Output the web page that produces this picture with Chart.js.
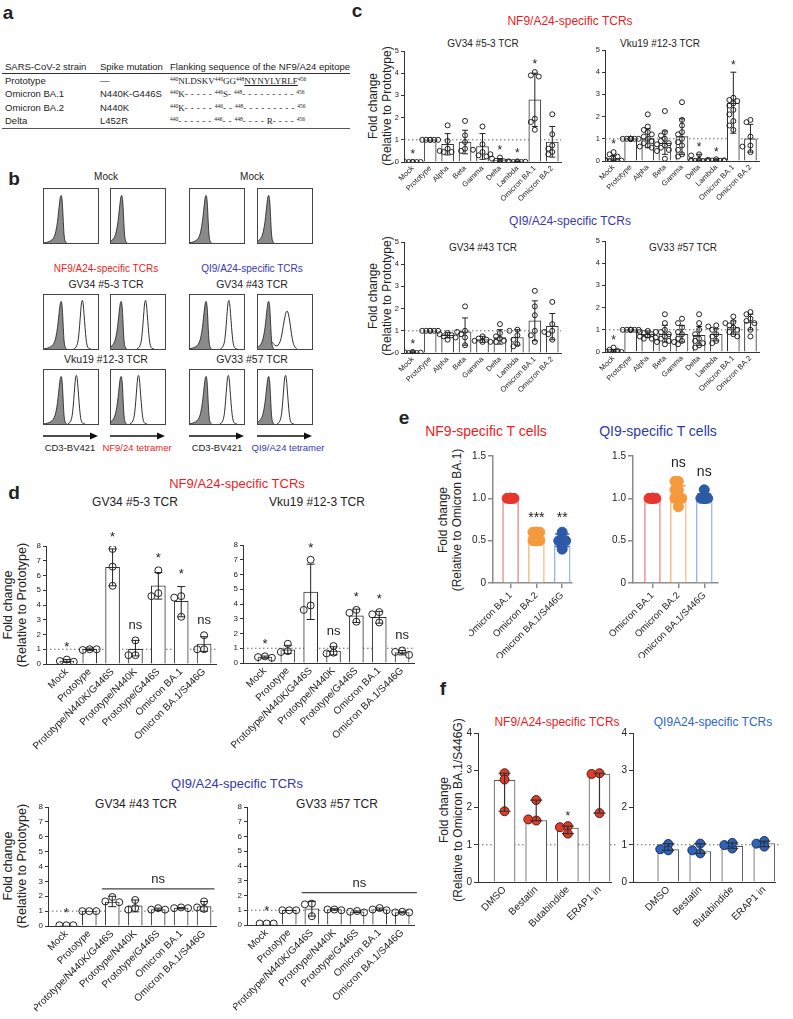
<!DOCTYPE html>
<html>
<head>
<meta charset="utf-8">
<script src="https://cdn.jsdelivr.net/npm/chart.js@4.4.1/dist/chart.umd.min.js"></script>
<style>
  body { margin: 0; background: #fff; font-family: 'Liberation Sans', Arial, sans-serif; color: #222; }
  #page { position: relative; width: 793px; height: 1019px; overflow: hidden; }
  .t { position: absolute; white-space: nowrap; transform: translate(-50%, -50%); line-height: 1; }
  .v { transform: translate(-50%, -50%) rotate(-90deg); }
  .box { position: absolute; border: 1px solid #444; box-sizing: border-box; }
  #tbl { position: absolute; left: 2px; top: 61px; border-collapse: collapse; font-size: 9.5px; }
  #tbl td { padding: 0; height: 11.5px; line-height: 11.5px; white-space: nowrap; }
  #tbl tr.hd td { border-bottom: 1px solid #333; height: 11px; }
  #tbl tr.last td { border-bottom: 1.5px solid #555; }
  .sq { font-family: 'Liberation Serif', serif; font-size: 9px; }
  .sq sup { font-size: 5.5px; vertical-align: 3px; }
  .ds { letter-spacing: 3px; }
</style>
</head>
<body>
<div id="page">
  <table id="tbl">
    <tr class="hd"><td style="width:95px;padding-left:3px">SARS-CoV-2 strain</td><td style="width:70px">Spike mutation</td><td style="width:169px">Flanking sequence of the NF9/A24 epitope</td></tr>
    <tr><td style="padding-left:3px">Prototype</td><td>&mdash;</td><td class="sq"><sup>440</sup>NLDSKV<sup>446</sup>GG<sup>448</sup><u>NYNYLYRLF</u><sup>456</sup></td></tr>
    <tr><td style="padding-left:3px">Omicron BA.1</td><td>N440K-G446S</td><td class="sq"><sup>440</sup>K<span class="ds">-----</span><sup>446</sup>S<span class="ds">-</span><sup>448</sup><span class="ds">---------</span><sup>456</sup></td></tr>
    <tr><td style="padding-left:3px">Omicron BA.2</td><td>N440K</td><td class="sq"><sup>440</sup>K<span class="ds">-----</span><sup>446</sup><span class="ds">--</span><sup>448</sup><span class="ds">---------</span><sup>456</sup></td></tr>
    <tr class="last"><td style="padding-left:3px">Delta</td><td>L452R</td><td class="sq"><sup>440</sup><span class="ds">------</span><sup>446</sup><span class="ds">--</span><sup>448</sup><span class="ds">----</span>R<span class="ds">----</span><sup>456</sup></td></tr>
  </table>
  <svg id="arrows" width="793" height="1019" style="position:absolute;left:0;top:0;pointer-events:none"></svg>
</div>
<script>
// ---- panel b: histogram shapes [offset, height] and peak centres (0-100 across each box)
const histGray = [[-34,0],[-28,1],[-22,3],[-17,6],[-13,12],[-10,22],[-7,40],[-5,58],[-3,76],[-1.5,86],[0,88],[1.5,80],[3,55],[4.5,25],[6,8],[8,2],[10,0]];
const histOpen = [[-16,0],[-12,3],[-9,10],[-7,22],[-5,44],[-3,70],[-1.5,86],[0,90],[1.5,84],[3,66],[5,40],[7,18],[9,6],[12,1],[16,0]];
const histOpenWide = [[-34,0],[-31,5],[-28,11],[-26,12],[-23,8],[-20,6],[-16,7],[-12,14],[-9,26],[-6,44],[-3,60],[-1,68],[1,70],[3,66],[6,50],[9,28],[12,12],[15,4],[19,0]];
const mockGray = [32, 20, 30, 20];
const row2Gray = [32, 19, 30, 20];
const row2Open = [71, 64, 72, 53];
const row3Gray = [32, 19, 30, 20];
const row3Open = [60, 51, 71, 51];

// ---- panel c
const cLabels = ['Mock', 'Prototype', 'Alpha', 'Beta', 'Gamma', 'Delta', 'Lambda', 'Omicron BA.1', 'Omicron BA.2'];

const c1Mean = [0, 1, 0.8, 0.9, 0.7, 0.08, 0.02, 2.8, 0.9];
const c1Lo = [0, 1, 0.32, 0.37, 0.12, 0, 0, 1.6, 0.22];
const c1Hi = [0, 1, 1.28, 1.43, 1.28, 0.16, 0.04, 4.0, 1.6];
const c1Pts = [
  [0, 0, 0, 0, 0, 0], [1, 1, 1, 1, 1, 1], [1.65, 0.95, 0.6, 0.45, 0.45, 0.5],
  [1.85, 1.2, 0.9, 0.6, 0.5, 0.55], [1.6, 0.8, 0.45, 0.3, 0.25, 0.35], [0.2, 0.15, 0.05, 0.03, 0.02, 0],
  [0.03, 0.02, 0.01, 0, 0, 0], [4.05, 3.9, 3.85, 1.95, 1.8, 1.45], [2.15, 1.25, 0.75, 0.6, 0.45, 0.35]
];
const c1Sig = ['*', '', '', '', '', '*', '*', '*', ''];

const c2Mean = [0.08, 1, 1.0, 0.8, 1.1, 0.05, 0.03, 2.6, 1.0];
const c2Lo = [0, 1, 0.6, 0.3, 0.3, 0, 0, 1.25, 0.4];
const c2Hi = [0.25, 1, 1.45, 1.35, 1.9, 0.3, 0.08, 4.0, 1.65];
const c2Pts = [
  [0.4, 0.3, 0.2, 0.1, 0.05, 0.02, 0, 0, 0, 0], [1, 1, 1, 1, 1, 1, 1, 1, 1, 1, 1, 1],
  [2.1, 1.55, 1.4, 1.3, 1.2, 1.1, 1.0, 0.9, 0.8, 0.7, 0.65, 0.6],
  [2.25, 1.3, 1.15, 1.0, 0.9, 0.8, 0.75, 0.7, 0.6, 0.5, 0.45, 0.1],
  [2.65, 1.85, 1.6, 1.3, 1.2, 1.0, 0.85, 0.7, 0.5, 0.3, 0.2],
  [0.3, 0.25, 0.05, 0.03, 0.02, 0.01, 0, 0, 0], [0.08, 0.05, 0.03, 0.02, 0.01, 0, 0, 0],
  [2.85, 2.75, 2.7, 2.6, 2.5, 2.3, 2.1, 1.8, 1.6, 1.4], [1.85, 1.75, 1.1, 0.7, 0.65, 0.4]
];
const c2Sig = ['*', '', '', '', '', '*', '*', '*', ''];

const c3Mean = [0.02, 1, 0.8, 0.95, 0.6, 0.7, 0.7, 1.45, 1.2];
const c3Lo = [0, 1, 0.68, 0.35, 0.48, 0.4, 0.35, 0.55, 0.6];
const c3Hi = [0.05, 1, 0.92, 1.58, 0.75, 1.05, 1.05, 2.35, 1.78];
const c3Pts = [
  [0.05, 0.03, 0.02, 0, 0, 0], [1, 1, 1, 1, 1, 1], [0.9, 0.85, 0.8, 0.75, 0.7, 0.6],
  [2.1, 1.0, 0.95, 0.85, 0.7, 0.35], [0.75, 0.65, 0.6, 0.55, 0.5, 0.5], [1.3, 0.9, 0.75, 0.65, 0.55, 0.5],
  [1.05, 1.0, 0.8, 0.6, 0.4, 0.3], [2.8, 2.1, 1.7, 1.0, 0.8, 0.5], [2.3, 1.3, 1.0, 0.95, 0.85, 0.6]
];
const c3Sig = ['*', '', '', '', '', '', '', '', ''];

const c4Mean = [0.05, 1, 0.8, 0.8, 0.8, 0.75, 0.8, 1.1, 1.35];
const c4Lo = [0, 1, 0.65, 0.45, 0.45, 0.3, 0.5, 0.8, 1.0];
const c4Hi = [0.12, 1, 0.95, 1.2, 1.2, 1.15, 1.05, 1.4, 1.7];
const c4Pts = [
  [0.2, 0.1, 0.05, 0.02, 0, 0, 0, 0], [1, 1, 1, 1, 1, 1, 1, 1],
  [0.95, 0.9, 0.9, 0.85, 0.8, 0.75, 0.7, 0.65, 0.6, 0.6],
  [1.7, 1.3, 1.0, 0.9, 0.8, 0.7, 0.6, 0.5, 0.45, 0.35],
  [1.5, 1.3, 1.1, 0.9, 0.8, 0.6, 0.5, 0.45, 0.35],
  [1.7, 1.3, 1.0, 0.8, 0.6, 0.5, 0.4, 0.3, 0.2],
  [1.2, 1.15, 1.0, 0.8, 0.7, 0.5, 0.4],
  [1.6, 1.35, 1.3, 1.2, 1.1, 1.0, 0.9, 0.8, 0.7],
  [1.8, 1.7, 1.5, 1.4, 1.3, 1.0, 0.7]
];
const c4Sig = ['*', '', '', '', '', '', '', '', ''];

// ---- panel d
const dLabels = ['Mock', 'Prototype', 'Prototype/N440K/G446S', 'Prototype/N440K', 'Prototype/G446S', 'Omicron BA.1', 'Omicron BA.1/S446G'];

const d1Mean = [0.2, 1.0, 6.55, 1.0, 5.3, 4.25, 1.35];
const d1Lo = [0.12, 0.92, 5.3, 0.55, 4.4, 3.2, 0.85];
const d1Hi = [0.3, 1.08, 7.8, 1.6, 6.2, 5.25, 1.85];
const d1Pts = [[0.3, 0.2, 0.15], [1.0, 0.95, 1.0], [7.8, 6.6, 5.3], [1.6, 0.6, 0.6], [6.35, 4.8, 4.6], [4.6, 4.5, 3.2], [1.95, 1.0, 1.0]];
const d1Sig = ['*', '', '*', 'ns', '*', '*', 'ns'];

const d2Mean = [0.4, 0.9, 4.8, 0.8, 3.2, 3.1, 0.7];
const d2Lo = [0.33, 0.65, 2.95, 0.55, 2.75, 2.7, 0.55];
const d2Hi = [0.47, 1.2, 6.7, 1.1, 3.65, 3.5, 0.85];
const d2Pts = [[0.45, 0.4, 0.35], [1.3, 0.8, 0.75], [7.0, 3.9, 3.6], [1.15, 0.7, 0.65], [3.6, 3.4, 2.8], [3.45, 3.3, 2.75], [0.85, 0.75, 0.55]];
const d2Sig = ['*', '', '*', 'ns', '*', '*', 'ns'];

const d3Mean = [0.05, 1.0, 1.6, 1.35, 1.1, 1.2, 1.3];
const d3Lo = [0.05, 1.0, 1.3, 0.95, 1.05, 1.15, 1.0];
const d3Hi = [0.05, 1.0, 2.0, 1.75, 1.2, 1.25, 1.65];
const d3Pts = [[0.05, 0.05, 0.05], [1, 1, 1], [1.95, 1.65, 1.6], [1.75, 1.2, 1.1], [1.2, 1.1, 1.1], [1.25, 1.2, 1.2], [1.65, 1.25, 1.15]];
const d3Sig = ['*', '', '', '', '', '', ''];
const d3Bracket = { from: 2, to: 6, y: 2.5, label: 'ns' };

const d4Mean = [0.05, 1.0, 1.1, 1.05, 0.9, 1.05, 0.85];
const d4Lo = [0.05, 1.0, 0.6, 1.0, 0.85, 1.0, 0.82];
const d4Hi = [0.05, 1.0, 1.6, 1.1, 0.95, 1.15, 0.9];
const d4Pts = [[0.1, 0.1, 0.1], [1, 1, 1], [1.45, 1.4, 0.6], [1.05, 1.05, 1.0], [0.95, 0.9, 0.85], [1.15, 1.05, 1.0], [0.9, 0.85, 0.85]];
const d4Sig = ['*', '', '', '', '', '', ''];
const d4Bracket = { from: 2, to: 6, y: 2.2, label: 'ns' };

// ---- panel e
const eLabels = ['Omicron BA.1', 'Omicron BA.2', 'Omicron BA.1/S446G'];
const e1Mean = [1.0, 0.55, 0.5];
const e1Lo = [1.0, 0.5, 0.43];
const e1Hi = [1.0, 0.6, 0.58];
const e1Pts = [[1, 1, 1, 1, 1, 1, 1, 1], [0.6, 0.6, 0.6, 0.6, 0.5, 0.5, 0.5, 0.5], [0.6, 0.5, 0.5, 0.5, 0.5, 0.5, 0.5, 0.4]];
const e1Sig = ['', '***', '**'];
const e2Mean = [1.0, 1.05, 1.0];
const e2Lo = [1.0, 0.95, 1.0];
const e2Hi = [1.0, 1.15, 1.05];
const e2Pts = [[1, 1, 1, 1, 1, 1, 1, 1], [1.2, 1.2, 1.1, 1.1, 1.0, 1.0, 1.0, 0.9], [1.1, 1, 1, 1, 1, 1, 1, 1]];
const e2Sig = ['', 'ns', 'ns'];

// ---- panel f
const fLabels = ['DMSO', 'Bestatin', 'Butabindide', 'ERAP1 in'];
const f1Mean = [2.73, 1.65, 1.45, 2.9];
const f1Lo = [1.9, 1.65, 1.3, 1.85];
const f1Hi = [2.92, 2.2, 1.5, 2.92];
const f1Pts = [[2.92, 2.75, 1.9], [2.2, 1.65, 1.68], [1.5, 1.47, 1.3], [2.92, 2.9, 1.85]];
const f1Sig = ['', '', '*', ''];
const f2Mean = [0.87, 0.82, 0.96, 1.03];
const f2Lo = [0.85, 0.77, 0.9, 0.95];
const f2Hi = [1.03, 1.03, 1.05, 1.1];
const f2Pts = [[1.02, 0.85, 0.88], [1.03, 0.77, 0.85], [0.9, 1.05, 0.99], [1.1, 0.95, 1.03]];

const RED = '#ec1c24';
const BLUE = '#3636b2';
const FONT = "'Liberation Sans', Arial, sans-serif";

Chart.defaults.font.family = FONT;
Chart.defaults.color = '#222';
Chart.defaults.animation = false;

const page = document.getElementById('page');
const pick = (v, i) => Array.isArray(v) ? v[i] : v;

function txt(s, x, y, size, opts = {}) {
  const d = document.createElement('div');
  d.className = 't' + (opts.v ? ' v' : '');
  d.textContent = s;
  d.style.left = x + 'px';
  d.style.top = y + 'px';
  d.style.fontSize = size + 'px';
  if (opts.color) d.style.color = opts.color;
  if (opts.bold) d.style.fontWeight = 'bold';
  page.appendChild(d);
}

function canvasAt(parent, left, top, w, h) {
  const cv = document.createElement('canvas');
  cv.width = w;
  cv.height = h;
  cv.style.cssText = `position:absolute;left:${left}px;top:${top}px;width:${w}px;height:${h}px`;
  parent.appendChild(cv);
  return cv;
}

// spread overlapping dots sideways, like a prism scatter
function swarm(vals, pxPerY, step, minDist, maxK) {
  const placed = [];
  return vals.map(v => {
    const py = v * pxPerY;
    let best = 0, bestD = -1;
    for (let k = 0; k <= 2 * maxK; k++) {
      const off = k === 0 ? 0 : (k % 2 ? -1 : 1) * Math.ceil(k / 2) * step;
      let d = Infinity;
      placed.forEach(p => { d = Math.min(d, Math.hypot(p.x - off, p.y - py)); });
      if (d >= minDist) { best = off; bestD = d; break; }
      if (d > bestD) { bestD = d; best = off; }
    }
    placed.push({ x: best, y: py });
    return best;
  });
}

function overlay(c) {
  return {
    id: 'overlay',
    beforeDatasetsDraw(chart) {
      if (c.ref == null) return;
      const { ctx, chartArea: a, scales: { y } } = chart;
      const py = y.getPixelForValue(c.ref);
      ctx.save();
      ctx.strokeStyle = '#666';
      ctx.lineWidth = 1;
      ctx.setLineDash([1.5, 2.5]);
      ctx.beginPath();
      ctx.moveTo(a.left, py);
      ctx.lineTo(a.right + (c.refExt || 0), py);
      ctx.stroke();
      ctx.restore();
    },
    afterDatasetsDraw(chart) {
      const { ctx, scales: { x, y } } = chart;
      ctx.save();
      c.means.forEach((m, i) => {
        if (c.hi[i] === c.lo[i]) return;
        const px = x.getPixelForValue(i);
        const lo = y.getPixelForValue(c.lo[i]);
        const hi = y.getPixelForValue(c.hi[i]);
        ctx.strokeStyle = pick(c.errColor || '#222', i);
        ctx.lineWidth = c.errW || 1;
        ctx.beginPath();
        ctx.moveTo(px, lo); ctx.lineTo(px, hi);
        ctx.moveTo(px - c.cap, hi); ctx.lineTo(px + c.cap, hi);
        ctx.moveTo(px - c.cap, lo); ctx.lineTo(px + c.cap, lo);
        ctx.stroke();
      });
      ctx.font = `${c.sigFont}px ${FONT}`;
      ctx.textAlign = 'center';
      ctx.textBaseline = 'middle';
      ctx.fillStyle = '#222';
      (c.sig || []).forEach((s, i) => {
        if (!s) return;
        const topV = Math.max(c.hi[i], ...c.pts[i]);
        let py = y.getPixelForValue(topV) - c.sigGap;
        if (s.includes('*')) py += c.sigFont * 0.25;
        ctx.fillText(s, x.getPixelForValue(i), py);
      });
      if (c.bracket) {
        const b = c.bracket;
        const py = y.getPixelForValue(b.y);
        const xa = x.getPixelForValue(b.from - 0.45);
        const xb = x.getPixelForValue(b.to + (c.bracketExt || 0.45));
        ctx.strokeStyle = '#444';
        ctx.lineWidth = 1.2;
        ctx.beginPath();
        ctx.moveTo(xa, py); ctx.lineTo(xb, py);
        ctx.stroke();
        ctx.fillText(b.label, (xa + xb) / 2, py - 9);
      }
      ctx.restore();
    }
  };
}

function barPanel(c) {
  const padT = c.padT ?? 8, padR = c.padR ?? 4;
  const left = c.x0 - c.yW, top = c.top - padT;
  const w = c.x1 + padR - left, h = c.bottom + c.xH - top;
  const cv = canvasAt(page, left, top, w, h);
  const slotPx = (c.x1 - c.x0) / (c.xMax - c.xMin);
  const pxPerY = (c.bottom - c.top) / c.yMax;
  const pts = [], fills = [], edges = [];
  c.pts.forEach((vals, i) => {
    const offs = swarm(vals, pxPerY, c.step, c.minDist, c.maxK);
    vals.forEach((v, k) => {
      pts.push({ x: i + offs[k] / slotPx, y: v });
      fills.push(c.ptFill ? pick(c.ptFill, i) : 'rgba(0,0,0,0)');
      edges.push(pick(c.ptEdge || '#222', i));
    });
  });
  const axisColor = c.axisColor || '#333';
  const axisW = c.axisW || 1;
  new Chart(cv, {
    type: 'bar',
    data: {
      datasets: [{
        type: 'bar',
        data: c.means.map((m, i) => ({ x: i, y: m })),
        backgroundColor: '#fff',
        borderColor: c.barColor || '#333',
        borderWidth: c.barBW || 1,
        barThickness: c.barW,
        order: 2
      }, {
        type: 'scatter',
        data: pts,
        pointRadius: c.r,
        pointBackgroundColor: fills,
        pointBorderColor: edges,
        pointBorderWidth: c.ptBW || 1,
        order: 1
      }]
    },
    options: {
      responsive: false,
      devicePixelRatio: 1,
      layout: { padding: { top: padT, right: padR, left: 0, bottom: 0 } },
      plugins: { legend: { display: false }, tooltip: { enabled: false } },
      scales: {
        x: {
          type: 'linear', min: c.xMin, max: c.xMax, bounds: 'data', offset: false,
          grid: { drawOnChartArea: false, drawTicks: !!c.xTicks, tickLength: 5, color: axisColor, lineWidth: axisW, offset: false },
          border: { color: axisColor, width: axisW },
          ticks: {
            autoSkip: false, maxRotation: 45, minRotation: 45, padding: 2,
            font: { size: c.xFont }, color: '#222',
            callback: (v, i) => c.labels[i]
          },
          afterBuildTicks: s => { s.ticks = c.labels.map((_, i) => ({ value: i })); },
          afterFit: s => { s.height = c.xH; s.paddingLeft = 0; s.paddingRight = 0; }
        },
        y: {
          min: 0, max: c.yMax,
          grid: { drawOnChartArea: false, tickLength: c.yTick || 3, color: axisColor, lineWidth: axisW },
          border: { color: axisColor, width: axisW },
          ticks: { stepSize: c.yStep, padding: 2, font: { size: c.yFont }, color: '#222', callback: c.yFmt || (v => v) },
          afterFit: s => { s.width = c.yW; s.paddingTop = 0; s.paddingBottom = 0; }
        }
      }
    },
    plugins: [overlay(c)]
  });
}

function histBox(left, top, grayC, openC, openShape) {
  const w = 56, h = 56;
  const box = document.createElement('div');
  box.className = 'box';
  box.style.cssText += `left:${left}px;top:${top}px;width:${w}px;height:${h}px`;
  page.appendChild(box);
  const cv = canvasAt(box, 0, 0, w - 2, h - 2);
  const datasets = [{
    data: histGray.map(([o, v]) => ({ x: grayC + o, y: v })),
    fill: 'origin', backgroundColor: '#8a8a8a', borderColor: '#1a1a1a', borderWidth: 0.8,
    pointRadius: 0, tension: 0.35
  }];
  if (openC != null) {
    datasets.push({
      data: openShape.map(([o, v]) => ({ x: openC + o, y: v })),
      fill: false, borderColor: '#1a1a1a', borderWidth: 0.9, pointRadius: 0, tension: 0.35
    });
  }
  new Chart(cv, {
    type: 'line',
    data: { datasets },
    options: {
      responsive: false, devicePixelRatio: 1,
      layout: { padding: 0 },
      plugins: { legend: { display: false }, tooltip: { enabled: false } },
      scales: {
        x: { type: 'linear', min: 0, max: 100, display: false },
        y: { min: 0, max: 100, display: false }
      }
    }
  });
}

// ---------- panel letters
txt('a', 8, 12, 19, { bold: true });
txt('b', 14, 178, 19, { bold: true });
txt('c', 357, 10, 19, { bold: true });
txt('d', 14, 492, 19, { bold: true });
txt('e', 404, 417, 19, { bold: true });
txt('f', 443, 688, 19, { bold: true });

// ---------- panel b
const colX = [43, 110, 189, 257];
const rowY = [188, 294, 369];
txt('Mock', 106, 177, 10);
txt('Mock', 252, 177, 10);
txt('NF9/A24-specific TCRs', 106, 269, 10, { color: RED });
txt('QI9/A24-specific TCRs', 252, 269, 10, { color: BLUE });
txt('GV34 #5-3 TCR', 106, 284, 10.5);
txt('GV34 #43 TCR', 252, 284, 10.5);
txt('Vku19 #12-3 TCR', 106, 359, 10.5);
txt('GV33 #57 TCR', 252, 359, 10.5);
colX.forEach((x, i) => {
  histBox(x, rowY[0], mockGray[i], null, null);
  histBox(x, rowY[1], row2Gray[i], row2Open[i], i === 3 ? histOpenWide : histOpen);
  histBox(x, rowY[2], row3Gray[i], row3Open[i], histOpen);
});
const svg = document.getElementById('arrows');
colX.forEach(x => {
  const y = 436, x2 = x + 55;
  svg.insertAdjacentHTML('beforeend',
    `<line x1="${x}" y1="${y}" x2="${x2 - 5}" y2="${y}" stroke="#111" stroke-width="1.3"/>` +
    `<polygon points="${x2},${y} ${x2 - 8},${y - 3.5} ${x2 - 8},${y + 3.5}" fill="#111"/>`);
});
txt('CD3-BV421', 70, 448, 9.5);
txt('NF9/24 tetramer', 137, 448, 9.5, { color: RED });
txt('CD3-BV421', 217, 448, 9.5);
txt('QI9/A24 tetramer', 288, 448, 9.5, { color: BLUE });

// ---------- panel c
txt('NF9/A24-specific TCRs', 570, 21, 12, { color: RED });
txt('GV34 #5-3 TCR', 483, 44, 10);
txt('Vku19 #12-3 TCR', 660, 44, 10);
txt('QI9/A24-specific TCRs', 570, 221, 12, { color: BLUE });
txt('GV34 #43 TCR', 483, 248, 10);
txt('GV33 #57 TCR', 683, 248, 10);
[106, 296].forEach(y => {
  txt('Fold change', 373, y, 12, { v: true });
  txt('(Relative to Prototype)', 387, y, 12, { v: true });
});
const cStyle = {
  yMax: 5, yStep: 1, yW: 14, xMin: -0.5, xMax: 8.5, xH: 52, labels: cLabels,
  barW: 12, r: 2.5, xFont: 7.5, yFont: 7.5, step: 4, minDist: 4.5, maxK: 2,
  cap: 3, sigFont: 12, sigGap: 10, ref: 1
};
barPanel({ ...cStyle, x0: 404, x1: 562, top: 51, bottom: 162, means: c1Mean, lo: c1Lo, hi: c1Hi, pts: c1Pts, sig: c1Sig });
barPanel({ ...cStyle, x0: 605, x1: 760, top: 50, bottom: 161, means: c2Mean, lo: c2Lo, hi: c2Hi, pts: c2Pts, sig: c2Sig });
barPanel({ ...cStyle, x0: 404, x1: 562, top: 242, bottom: 353, means: c3Mean, lo: c3Lo, hi: c3Hi, pts: c3Pts, sig: c3Sig });
barPanel({ ...cStyle, x0: 605, x1: 760, top: 241, bottom: 352, means: c4Mean, lo: c4Lo, hi: c4Hi, pts: c4Pts, sig: c4Sig });

// ---------- panel d
txt('NF9/A24-specific TCRs', 237, 483, 13, { color: RED });
txt('GV34 #5-3 TCR', 135, 502, 12);
txt('Vku19 #12-3 TCR', 317, 502, 12);
txt('QI9/A24-specific TCRs', 237, 783, 13, { color: BLUE });
txt('GV34 #43 TCR', 136, 804, 12);
txt('GV33 #57 TCR', 337, 804, 12);
[605, 866].forEach(y => {
  txt('Fold change', 8, y, 12.5, { v: true });
  txt('(Relative to Prototype)', 22, y, 12.5, { v: true });
});
const dStyle = {
  yMax: 8, yStep: 1, yW: 14, xMax: 6.52, xH: 90, labels: dLabels, padT: 24,
  barW: 14, r: 3.5, xFont: 10, yFont: 8, step: 7, minDist: 6, maxK: 1,
  cap: 4, sigFont: 13, sigGap: 15, ref: 1
};
barPanel({ ...dStyle, x0: 46, x1: 217, top: 546, bottom: 664, xMin: -0.91, means: d1Mean, lo: d1Lo, hi: d1Hi, pts: d1Pts, sig: d1Sig });
barPanel({ ...dStyle, x0: 243, x1: 415, top: 545, bottom: 663, xMin: -0.96, means: d2Mean, lo: d2Lo, hi: d2Hi, pts: d2Pts, sig: d2Sig });
barPanel({ ...dStyle, x0: 48, x1: 217, top: 807, bottom: 926, xMin: -0.8, means: d3Mean, lo: d3Lo, hi: d3Hi, pts: d3Pts, sig: d3Sig, bracket: d3Bracket, padT: 8 });
barPanel({ ...dStyle, x0: 247, x1: 415, top: 807, bottom: 925, xMin: -0.87, means: d4Mean, lo: d4Lo, hi: d4Hi, pts: d4Pts, sig: d4Sig, bracket: d4Bracket, bracketExt: 0.65, padT: 8 });

// ---------- panel e
txt('NF9-specific T cells', 486, 431, 14, { color: RED });
txt('QI9-specific T cells', 658, 431, 14, { color: '#2d3aa6' });
txt('Fold change', 443, 520, 12, { v: true });
txt('(Relative to Omicron BA.1)', 457, 520, 12, { v: true });
const eStyle = {
  yMax: 1.5, yStep: 0.5, yW: 24, xH: 75, labels: eLabels, barW: 16, barBW: 1.5,
  barColor: ['#f08c8c', '#f7bd88', '#9db8e4'], ptFill: ['#e8352e', '#f59a3c', '#2c5aa8'],
  ptEdge: ['#e8352e', '#f59a3c', '#2c5aa8'], errColor: ['#e8352e', '#f59a3c', '#2c5aa8'], errW: 1.5,
  r: 5, xFont: 9.5, yFont: 10, step: 3.5, minDist: 3, maxK: 1, cap: 7, sigFont: 14, sigGap: 18,
  xTicks: true, yTick: 5, axisColor: '#8c8c8c', axisW: 1.5,
  yFmt: v => v === 0 ? '0' : v.toFixed(1)
};
barPanel({ ...eStyle, x0: 493, x1: 574, top: 456, bottom: 583, xMin: -0.68, xMax: 2.38, means: e1Mean, lo: e1Lo, hi: e1Hi, pts: e1Pts, sig: e1Sig });
barPanel({ ...eStyle, x0: 633, x1: 720, top: 456, bottom: 583, xMin: -0.75, xMax: 2.53, means: e2Mean, lo: e2Lo, hi: e2Hi, pts: e2Pts, sig: e2Sig });

// ---------- panel f
txt('NF9/A24-specific TCRs', 557, 722, 12, { color: RED });
txt('QI9A24-specific TCRs', 713, 722, 12, { color: '#2c66c6' });
txt('Fold change', 444, 810, 12, { v: true });
txt('(Relative to Omicron BA.1/S446G)', 458, 810, 12, { v: true });
const fStyle = {
  yMax: 4, yStep: 1, yW: 20, xH: 72, labels: fLabels, barW: 21, barColor: '#555',
  r: 4.5, ptBW: 1, xFont: 10, yFont: 10, step: 8, minDist: 5, maxK: 1,
  cap: 6, errColor: '#333', errW: 1.2, sigFont: 12, sigGap: 12, ref: 1, yTick: 4
};
barPanel({ ...fStyle, x0: 478, x1: 613, top: 733, bottom: 882, xMin: -0.84, xMax: 3.38, means: f1Mean, lo: f1Lo, hi: f1Hi, pts: f1Pts, sig: f1Sig,
  ptFill: '#e03c2c', ptEdge: '#5a1a10', refExt: 20 });
barPanel({ ...fStyle, x0: 633, x1: 777, top: 733, bottom: 882, xMin: -1.1, xMax: 3.35, means: f2Mean, lo: f2Lo, hi: f2Hi, pts: f2Pts,
  ptFill: '#2f62b8', ptEdge: '#17325e', refExt: 10 });
</script>
</body>
</html>
